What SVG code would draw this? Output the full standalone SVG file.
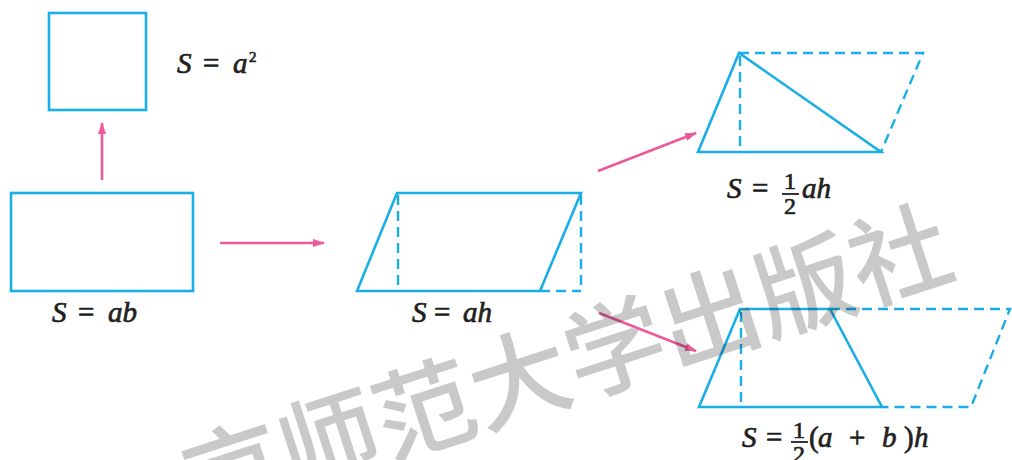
<svg xmlns="http://www.w3.org/2000/svg" width="1012" height="460" viewBox="0 0 1012 460">
<defs>
<style>
.sh{fill:none;stroke:#1aaee8;stroke-width:2.6;stroke-linejoin:miter}
.da{fill:none;stroke:#1aaee8;stroke-width:2.4;stroke-dasharray:10 6}
.ar{fill:none;stroke:#ec5a9c;stroke-width:2.6}
.t{font-size:29px;fill:#231f20;stroke:#231f20;stroke-width:0.7}
.i{font-style:italic}
.fr{font-size:24px}
.wm{font-size:100px;font-weight:500;fill:#000;fill-opacity:0.21}
</style>
<marker id="ah" viewBox="0 0 12 8" refX="11" refY="4" markerWidth="12" markerHeight="8" markerUnits="userSpaceOnUse" orient="auto">
<path d="M0,0 L12,4 L0,8 Z" fill="#ec5a9c"/>
</marker>
</defs>

<g id="square">
<rect class="sh" x="49" y="13" width="97" height="97"/>
<text class="t" font-family="Liberation Serif" y="73"><tspan class="i" x="177">S</tspan><tspan x="203">=</tspan><tspan class="i" x="233">a</tspan><tspan x="249" y="62" font-size="15">2</tspan></text>
</g>

<g id="rectangle">
<rect class="sh" x="11" y="193" width="182" height="98"/>
<text class="t" font-family="Liberation Serif" y="322"><tspan class="i" x="52">S</tspan><tspan x="78">=</tspan><tspan class="i" x="108">ab</tspan></text>
</g>

<g id="parallelogram">
<path class="sh" d="M357,291 L397,193 L581,193 L540,291 Z"/>
<path class="da" d="M398,195 V291 M581,195 V291 M540,291 H581"/>
<text class="t" font-family="Liberation Serif" y="322"><tspan class="i" x="412">S</tspan><tspan x="434">=</tspan><tspan class="i" x="463">ah</tspan></text>
</g>

<g id="triangle">
<path class="sh" d="M698,152 L739,53 L881,152 Z"/>
<path class="da" d="M740,56 V152 M739,53 H923 L881,152"/>
<text class="t" font-family="Liberation Serif" y="198"><tspan class="i" x="727">S</tspan><tspan x="752">=</tspan></text>
<text class="t fr" font-family="Liberation Serif" x="790" y="189" text-anchor="middle">1</text>
<line x1="782" y1="194" x2="799" y2="194" stroke="#231f20" stroke-width="1.8"/>
<text class="t fr" font-family="Liberation Serif" x="790" y="214" text-anchor="middle">2</text>
<text class="t i" font-family="Liberation Serif" x="802" y="198">ah</text>
</g>

<g id="trapezoid">
<path class="sh" d="M699,407 L740,309 L830,309 L882,407 Z"/>
<path class="da" d="M741,312 V407 M830,309 H1010 L971,407 H882"/>
<text class="t" font-family="Liberation Serif" y="447"><tspan class="i" x="742">S</tspan><tspan x="766">=</tspan></text>
<text class="t fr" font-family="Liberation Serif" x="799" y="438" text-anchor="middle">1</text>
<line x1="791" y1="442" x2="808" y2="442" stroke="#231f20" stroke-width="1.8"/>
<text class="t fr" font-family="Liberation Serif" x="799" y="462" text-anchor="middle">2</text>
<text class="t" font-family="Liberation Serif" y="447"><tspan x="809">(</tspan><tspan class="i" x="818">a</tspan><tspan x="849">+</tspan><tspan class="i" x="882">b</tspan><tspan x="904">)</tspan><tspan class="i" x="914">h</tspan></text>
</g>

<g id="connectors">
<line class="ar" x1="102" y1="180" x2="102" y2="123" marker-end="url(#ah)"/>
<line class="ar" x1="220" y1="243" x2="324" y2="243" marker-end="url(#ah)"/>
<line class="ar" x1="598" y1="171" x2="696" y2="133" marker-end="url(#ah)"/>
<line class="ar" x1="599" y1="313" x2="696" y2="351" marker-end="url(#ah)"/>
</g>

<g id="watermark">
<text class="wm" font-family="Noto Sans CJK SC, sans-serif" transform="translate(198,522) rotate(-18)">京师范大学出版社</text>
</g>
</svg>
